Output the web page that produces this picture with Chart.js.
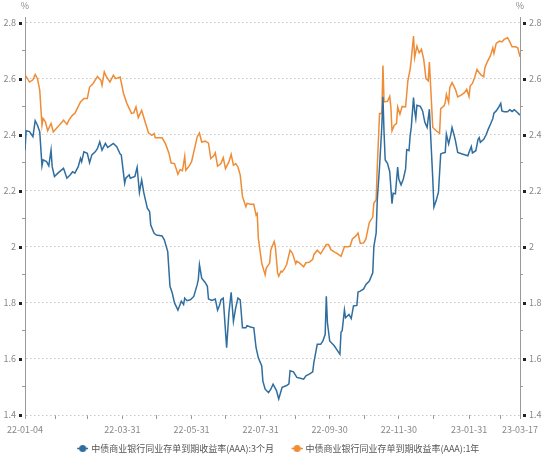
<!DOCTYPE html>
<html>
<head>
<meta charset="utf-8">
<script src="https://cdn.jsdelivr.net/npm/chart.js@4.4.0/dist/chart.umd.min.js"></script>
<style>
html, body { margin: 0; padding: 0; background: #fff; }
#wrap { width: 550px; height: 455px; }
</style>
</head>
<body>
<div id="wrap"><canvas id="chart"></canvas></div>
<script>
// series names
var name3m = '中债商业银行同业存单到期收益率(AAA):3个月';
var name1y = '中债商业银行同业存单到期收益率(AAA):1年';

// 3 month yield
var dates3m = ['22-01-04','22-01-05','22-01-08','22-01-11','22-01-13','22-01-15','22-01-17','22-01-19','22-01-20','22-01-23',
  '22-01-25','22-01-27','22-01-28','22-01-30','22-02-02','22-02-07','22-02-10','22-02-13','22-02-15','22-02-17',
  '22-02-20','22-02-22','22-02-23','22-02-25','22-02-28','22-03-02','22-03-04','22-03-07','22-03-09','22-03-11',
  '22-03-13','22-03-16','22-03-18','22-03-20','22-03-23','22-03-26','22-03-29','22-03-30','22-04-02','22-04-03',
  '22-04-06','22-04-07','22-04-11','22-04-13','22-04-15','22-04-17','22-04-19','22-04-22','22-04-24','22-04-25',
  '22-04-28','22-04-30','22-05-05','22-05-07','22-05-10','22-05-12','22-05-14','22-05-16','22-05-19','22-05-22',
  '22-05-24','22-05-25','22-05-27','22-05-30','22-06-02','22-06-05','22-06-06','22-06-07','22-06-09','22-06-12',
  '22-06-14','22-06-15','22-06-18','22-06-21','22-06-23','22-06-25','22-06-26','22-06-28','22-07-01','22-07-03',
  '22-07-05','22-07-07','22-07-09','22-07-11','22-07-13','22-07-15','22-07-18','22-07-19','22-07-22','22-07-25',
  '22-07-27','22-07-29','22-08-01','22-08-02','22-08-04','22-08-07','22-08-09','22-08-11','22-08-14','22-08-16',
  '22-08-19','22-08-23','22-08-25','22-08-26','22-08-29','22-09-01','22-09-04','22-09-07','22-09-09','22-09-12',
  '22-09-15','22-09-16','22-09-19','22-09-22','22-09-24','22-09-26','22-09-27','22-09-28','22-09-30','22-10-04',
  '22-10-07','22-10-09','22-10-10','22-10-11','22-10-13','22-10-14','22-10-17','22-10-19','22-10-21','22-10-24',
  '22-10-25','22-10-27','22-10-30','22-11-01','22-11-04','22-11-07','22-11-08','22-11-10','22-11-11','22-11-13',
  '22-11-15','22-11-16','22-11-17','22-11-18','22-11-20','22-11-22','22-11-24','22-11-25','22-11-27','22-11-29',
  '22-11-30','22-12-02','22-12-04','22-12-06','22-12-07','22-12-09','22-12-10','22-12-11','22-12-13','22-12-14',
  '22-12-15','22-12-16','22-12-19','22-12-21','22-12-23','22-12-25','22-12-27','22-12-28','22-12-30','22-12-31',
  '23-01-02','23-01-04','23-01-06','23-01-08','23-01-10','23-01-11','23-01-13','23-01-15','23-01-16','23-01-18',
  '23-01-19','23-01-21','23-01-25','23-01-30','23-01-31','23-02-02','23-02-03','23-02-06','23-02-08','23-02-09',
  '23-02-10','23-02-13','23-02-15','23-02-17','23-02-19','23-02-21','23-02-22','23-02-24','23-02-26','23-02-28',
  '23-03-01','23-03-03','23-03-06','23-03-08','23-03-10','23-03-12','23-03-14','23-03-17'];
var rate3m = [2.345,2.414,2.411,2.393,2.45,2.434,2.411,2.289,2.31,2.304,
  2.289,2.345,2.286,2.251,2.263,2.28,2.245,2.257,2.268,2.263,
  2.286,2.316,2.304,2.339,2.334,2.30,2.328,2.339,2.351,2.375,
  2.345,2.369,2.355,2.36,2.369,2.357,2.331,2.328,2.227,2.245,
  2.257,2.245,2.251,2.284,2.194,2.239,2.191,2.138,2.126,2.078,
  2.048,2.042,2.039,2.025,1.983,1.859,1.835,1.80,1.774,1.806,
  1.794,1.817,1.808,1.811,1.823,1.865,1.883,1.936,1.888,1.873,
  1.859,1.814,1.809,1.814,1.774,1.794,1.811,1.817,1.64,1.764,
  1.838,1.734,1.782,1.817,1.811,1.711,1.711,1.719,1.714,1.711,
  1.64,1.604,1.575,1.521,1.492,1.48,1.492,1.51,1.487,1.457,
  1.499,1.505,1.511,1.558,1.554,1.534,1.531,1.528,1.54,1.546,
  1.554,1.587,1.652,1.652,1.664,1.688,1.824,1.729,1.664,1.647,
  1.629,1.617,1.696,1.70,1.775,1.747,1.759,1.744,1.789,1.791,
  1.839,1.842,1.85,1.866,1.878,1.907,2.002,2.049,2.168,2.286,
  2.428,2.535,2.405,2.31,2.298,2.268,2.154,2.191,2.189,2.285,
  2.242,2.221,2.242,2.278,2.347,2.343,2.396,2.426,2.533,2.485,
  2.458,2.505,2.501,2.485,2.444,2.426,2.491,2.408,2.242,2.142,
  2.165,2.195,2.331,2.335,2.337,2.402,2.367,2.402,2.426,2.396,
  2.379,2.337,2.331,2.325,2.337,2.358,2.335,2.343,2.384,2.39,
  2.373,2.384,2.399,2.42,2.438,2.458,2.477,2.485,2.497,2.512,
  2.485,2.482,2.482,2.489,2.483,2.489,2.482,2.47];

// 1 year yield
var dates1y = ['22-01-04','22-01-05','22-01-08','22-01-11','22-01-13','22-01-15','22-01-17','22-01-19','22-01-20','22-01-22',
  '22-01-24','22-01-27','22-01-29','22-02-02','22-02-07','22-02-10','22-02-12','22-02-15','22-02-17','22-02-22',
  '22-02-25','22-02-28','22-03-02','22-03-05','22-03-09','22-03-12','22-03-13','22-03-15','22-03-17','22-03-20',
  '22-03-23','22-03-25','22-03-29','22-04-01','22-04-04','22-04-08','22-04-10','22-04-12','22-04-14','22-04-17',
  '22-04-20','22-04-23','22-04-26','22-04-28','22-04-29','22-05-05','22-05-08','22-05-11','22-05-13','22-05-16',
  '22-05-19','22-05-21','22-05-23','22-05-25','22-05-26','22-05-29','22-05-31','22-06-03','22-06-05','22-06-07',
  '22-06-09','22-06-12','22-06-15','22-06-17','22-06-20','22-06-21','22-06-23','22-06-26','22-06-28','22-06-30',
  '22-07-03','22-07-05','22-07-07','22-07-09','22-07-11','22-07-13','22-07-15','22-07-18','22-07-19','22-07-22',
  '22-07-25','22-07-27','22-07-28','22-07-29','22-08-01','22-08-04','22-08-05','22-08-08','22-08-09','22-08-12',
  '22-08-13','22-08-15','22-08-16','22-08-18','22-08-19','22-08-21','22-08-23','22-08-26','22-08-28','22-08-29',
  '22-08-31','22-09-01','22-09-04','22-09-07','22-09-09','22-09-12','22-09-15','22-09-16','22-09-19','22-09-22',
  '22-09-24','22-09-27','22-09-29','22-10-01','22-10-04','22-10-07','22-10-10','22-10-13','22-10-16','22-10-18',
  '22-10-20','22-10-23','22-10-25','22-10-27','22-10-30','22-11-01','22-11-02','22-11-04','22-11-07','22-11-08',
  '22-11-10','22-11-11','22-11-13','22-11-15','22-11-16','22-11-17','22-11-20','22-11-22','22-11-23','22-11-24',
  '22-11-26','22-11-28','22-11-29','22-12-01','22-12-03','22-12-06','22-12-08','22-12-10','22-12-11','22-12-13',
  '22-12-14','22-12-16','22-12-18','22-12-20','22-12-22','22-12-24','22-12-26','22-12-27','22-12-29','22-12-30',
  '23-01-02','23-01-05','23-01-06','23-01-09','23-01-10','23-01-11','23-01-13','23-01-14','23-01-16','23-01-19',
  '23-01-21','23-01-24','23-01-27','23-01-29','23-01-31','23-02-01','23-02-03','23-02-05','23-02-07','23-02-09',
  '23-02-11','23-02-13','23-02-14','23-02-16','23-02-19','23-02-21','23-02-22','23-02-24','23-02-27','23-03-01',
  '23-03-03','23-03-06','23-03-08','23-03-10','23-03-13','23-03-15','23-03-17'];
var rate1y = [2.612,2.608,2.588,2.596,2.615,2.60,2.559,2.434,2.458,2.446,
  2.414,2.44,2.41,2.428,2.452,2.437,2.454,2.47,2.476,2.517,
  2.529,2.529,2.57,2.582,2.608,2.594,2.576,2.624,2.606,2.588,
  2.612,2.60,2.606,2.547,2.511,2.476,2.478,2.499,2.461,2.487,
  2.446,2.407,2.398,2.404,2.389,2.389,2.368,2.335,2.299,2.297,
  2.259,2.276,2.271,2.323,2.273,2.289,2.303,2.356,2.392,2.406,
  2.374,2.377,2.37,2.315,2.327,2.335,2.288,2.297,2.318,2.279,
  2.303,2.33,2.291,2.297,2.285,2.256,2.179,2.143,2.155,2.152,
  2.152,2.113,2.119,2.031,1.942,1.90,1.924,1.942,1.989,2.019,
  2.001,1.907,1.895,1.913,1.91,1.921,1.937,1.988,1.978,1.966,
  1.94,1.949,1.94,1.929,1.943,1.945,1.955,1.972,1.988,1.975,
  1.988,2.008,2.008,1.99,1.982,1.975,1.966,2.0,2.0,2.002,
  2.028,2.038,2.049,2.012,2.014,2.028,2.049,2.087,2.106,2.156,
  2.168,2.286,2.476,2.476,2.647,2.517,2.519,2.537,2.499,2.414,
  2.434,2.44,2.499,2.473,2.501,2.499,2.592,2.633,2.669,2.752,
  2.675,2.716,2.692,2.705,2.669,2.60,2.592,2.659,2.503,2.426,
  2.414,2.405,2.493,2.503,2.515,2.544,2.515,2.568,2.586,2.562,
  2.535,2.541,2.55,2.562,2.536,2.574,2.583,2.604,2.633,2.621,
  2.612,2.607,2.639,2.659,2.683,2.71,2.69,2.726,2.734,2.731,
  2.74,2.746,2.731,2.714,2.714,2.71,2.678];

// axis ticks
var xTickDates = ['22-01-04','22-01-31','22-02-28','22-03-31','22-04-30','22-05-31','22-06-30','22-07-31',
  '22-08-31','22-09-30','22-10-31','22-11-30','22-12-31','23-01-31','23-02-28','23-03-17'];
var xLabelDates = ['22-01-04','22-03-31','22-05-31','22-07-31','22-09-30','22-11-30','23-01-31','23-03-17'];
var yMajor = [1.4, 1.6, 1.8, 2, 2.2, 2.4, 2.6, 2.8];
var yMinor = [1.5, 1.7, 1.9, 2.1, 2.3, 2.5, 2.7];

var blue = '#2f6e9f';
var orange = '#ef8c36';
var fontFamily = '"Noto Sans CJK SC", "Noto Sans", sans-serif';

// days since the first date
function dayOf(s) {
    var t = Date.UTC(2000 + +s.slice(0, 2), +s.slice(3, 5) - 1, +s.slice(6, 8));
    return Math.round((t - Date.UTC(2022, 0, 4)) / 86400000);
}

function isMajor(v) {
    return yMajor.indexOf(v) >= 0;
}

function toPoints(dates, vals) {
    return dates.map(function(d, i) { return {x: dayOf(d), y: vals[i]}; });
}

// legend marker: short line with a dot, sitting at the right of its box
function legendIcon(color) {
    var c = document.createElement('canvas');
    c.width = 19; c.height = 9;
    var g = c.getContext('2d');
    g.strokeStyle = color; g.lineWidth = 1.5;
    g.beginPath(); g.moveTo(8, 4.5); g.lineTo(19, 4.5); g.stroke();
    g.fillStyle = color;
    g.beginPath(); g.arc(13.5, 4.5, 3.5, 0, Math.PI * 2); g.fill();
    return c;
}

var xLabelDays = xLabelDates.map(dayOf);

// black squares on the major y ticks and the % units
var axisMarks = {
    id: 'axisMarks',
    afterDraw: function(chart) {
        var ctx = chart.ctx;
        ['yLeft', 'yRight'].forEach(function(id) {
            var s = chart.scales[id];
            var left = id === 'yLeft';
            var ax = left ? s.right : s.left;
            ctx.save();
            ctx.fillStyle = '#222';
            yMajor.forEach(function(v) {
                var y = Math.round(s.getPixelForValue(v));
                ctx.fillRect(left ? ax - 6 : ax + 3, y - 1, 3, 3);
            });
            ctx.fillStyle = '#888';
            ctx.font = '9px ' + fontFamily;
            ctx.textAlign = 'center';
            ctx.textBaseline = 'top';
            ctx.fillText('%', ax, 1);
            ctx.restore();
        });
    }
};

// keep the legend short so the plot reaches down to the axis
var legendFit = {
    id: 'legendFit',
    beforeUpdate: function(chart) {
        if (chart.legend && !chart.legend._patched) {
            var fit = chart.legend.fit;
            chart.legend.fit = function() { fit.call(this); this.height = 22; };
            chart.legend._patched = true;
        }
    }
};

var yAxis = function(pos) {
    var left = pos === 'left';
    return {
        position: pos,
        min: 1.4,
        max: 2.82,
        afterBuildTicks: function(s) {
            s.ticks = yMajor.concat(yMinor).sort().map(function(v) { return {value: v}; });
        },
        afterFit: function(s) { s.width = left ? 25 : 30; },
        border: {display: true, color: '#9a9a9a', width: 1, dash: [1.5, 2.5]},
        grid: {
            drawOnChartArea: left,
            color: function(c) { return c.tick && isMajor(c.tick.value) ? '#c8c8c8' : 'rgba(0,0,0,0)'; },
            tickLength: 3,
            tickColor: function(c) { return c.tick && isMajor(c.tick.value) ? 'rgba(0,0,0,0)' : '#9a9a9a'; }
        },
        ticks: {
            padding: 6,
            color: '#888',
            font: {size: 9},
            callback: function(v) { return isMajor(v) ? String(v) : ''; }
        }
    };
};

var ctx = document.getElementById('chart').getContext('2d');
Chart.defaults.font.family = fontFamily;

var chart = new Chart(ctx, {
    type: 'line',
    data: {
        datasets: [
            {
                label: name3m,
                data: toPoints(dates3m, rate3m),
                borderColor: blue,
                backgroundColor: blue,
                borderWidth: 1.5,
                pointRadius: 0,
                pointStyle: legendIcon(blue),
                yAxisID: 'yLeft'
            },
            {
                label: name1y,
                data: toPoints(dates1y, rate1y),
                borderColor: orange,
                backgroundColor: orange,
                borderWidth: 1.5,
                pointRadius: 0,
                pointStyle: legendIcon(orange),
                yAxisID: 'yLeft'
            }
        ]
    },
    options: {
        responsive: true,
        maintainAspectRatio: false,
        animation: false,
        layout: {padding: {top: 17, left: 0, right: 0, bottom: 0}},
        scales: {
            x: {
                type: 'linear',
                min: 0,
                max: dayOf('23-03-17'),
                afterBuildTicks: function(s) {
                    s.ticks = xTickDates.map(function(d) { return {value: dayOf(d)}; });
                },
                afterFit: function(s) { s.height = 18; },
                border: {display: false},
                grid: {drawOnChartArea: false, tickLength: 4, tickColor: '#9a9a9a'},
                ticks: {
                    autoSkip: false,
                    maxRotation: 0,
                    padding: 5,
                    color: '#888',
                    font: {size: 9},
                    callback: function(v) {
                        var i = xLabelDays.indexOf(v);
                        return i >= 0 ? xLabelDates[i] : '';
                    }
                }
            },
            yLeft: yAxis('left'),
            yRight: yAxis('right')
        },
        plugins: {
            legend: {
                position: 'bottom',
                labels: {
                    usePointStyle: true,
                    pointStyleWidth: 16,
                    padding: 11,
                    color: '#555',
                    font: {size: 9}
                }
            },
            tooltip: {enabled: false}
        }
    },
    plugins: [axisMarks, legendFit]
});
</script>
</body>
</html>
